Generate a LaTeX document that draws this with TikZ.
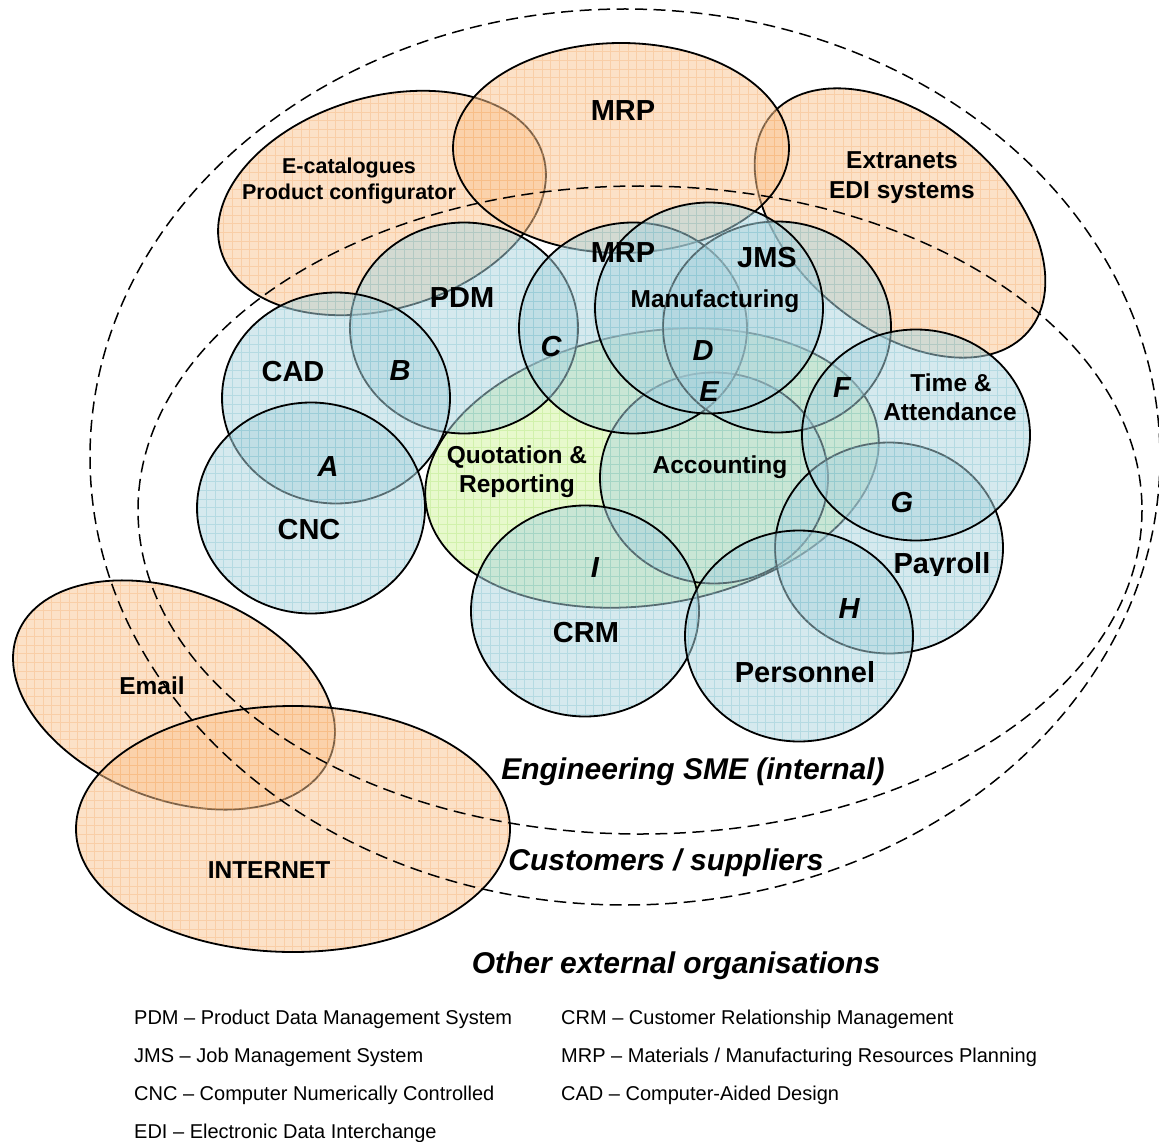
\documentclass[tikz,border=0pt]{standalone}
\usepackage{fontspec}
\setmainfont{Liberation Sans}
\newcommand\myfs[1]{\fontsize{#1}{#1}\selectfont}
\definecolor{orbase}{RGB}{251,197,145}
\definecolor{blbase}{RGB}{172,212,222}
\definecolor{grbase}{RGB}{209,245,155}
\definecolor{orgrid}{RGB}{245,165,95}
\definecolor{blgrid}{RGB}{110,185,200}
\definecolor{grgrid}{RGB}{160,225,100}
\tikzset{
  gridpic/.style={path picture={\draw[reset cm,#1,draw opacity=0.3,line width=0.5pt,step=8.6pt] (0,1142) grid (1159,0);}},
  orsh/.style={fill=orbase, fill opacity=0.5, draw=black, line width=1.8pt, gridpic=orgrid},
  blsh/.style={fill=blbase, fill opacity=0.5, draw=black, line width=1.8pt, gridpic=blgrid},
  grsh/.style={fill=grbase, fill opacity=0.5, draw=black, line width=1.8pt, gridpic=grgrid},
  dsh/.style={draw=black, line width=1.5pt, dash pattern=on 12pt off 6.5pt},
  big/.style={font=\bfseries\myfs{29}, anchor=base, inner sep=0pt},
  mid/.style={font=\bfseries\myfs{24.5}, anchor=base, inner sep=0pt},
  sml/.style={font=\bfseries\myfs{21.5}, anchor=base, inner sep=0pt},
  ital/.style={font=\bfseries\itshape\myfs{29}, anchor=base, inner sep=0pt},
  ttl/.style={font=\bfseries\itshape\myfs{30}, anchor=base, inner sep=0pt},
  leg/.style={font=\myfs{20}, anchor=base west, inner sep=0pt},
}
\begin{document}
\begin{tikzpicture}[x=1pt,y=-1pt]
\fill[white] (0,0) rectangle (1159,1142);
\useasboundingbox (0,0) rectangle (1159,1142);

% orange shapes
\draw[orsh, shift={(382,203)}, rotate=16.4] (0,0) ellipse [x radius=168, y radius=106];
\draw[orsh, shift={(900,223)}, rotate=-40] (0,0) ellipse [x radius=168, y radius=105];
\draw[orsh] (621,148) ellipse [x radius=168, y radius=105];
\draw[orsh, shift={(174,695)}, rotate=-21.4] (0,0) ellipse [x radius=168, y radius=104];
\draw[orsh] (293,829) ellipse [x radius=217, y radius=123];

% dashed boundaries
\draw[dsh] (625,457) ellipse [x radius=535, y radius=448];
\draw[dsh] (640,510) ellipse [x radius=502, y radius=324];

% Quotation & Reporting
\draw[grsh, shift={(652,468)}, rotate=10] (0,0) ellipse [x radius=229, y radius=136];

% blue shapes
\draw[blsh] (464,328) ellipse [x radius=114, y radius=105.5]; % PDM
\draw[blsh] (336,398) ellipse [x radius=114, y radius=105.5]; % CAD
\draw[blsh] (311,508) ellipse [x radius=114, y radius=105.5]; % CNC
\draw[blsh] (714,478) ellipse [x radius=114, y radius=105.5]; % Accounting
\draw[blsh] (633,328) ellipse [x radius=114, y radius=105.5]; % MRP lower
\draw[blsh] (777,327) ellipse [x radius=114, y radius=105.5]; % JMS
\draw[blsh] (709,308) ellipse [x radius=114, y radius=105.5]; % Manufacturing
\draw[blsh] (889,548) ellipse [x radius=114, y radius=105.5]; % Payroll
\draw[blsh] (916,435) ellipse [x radius=114, y radius=105.5]; % Time & Attendance
\draw[blsh] (585,611) ellipse [x radius=114, y radius=105.5]; % CRM
\draw[blsh] (799,636) ellipse [x radius=114, y radius=105.5]; % Personnel

% labels
\node[big] (mrpt) at (623,121) {MRP};
\node[sml] (ecat1) at (349,174) {E-catalogues};
\node[sml] (ecat2) at (349,200) {Product configurator};
\node[mid] (extr1) at (902,169) {Extranets};
\node[mid] (extr2) at (902,199) {EDI systems};
\node[big] (mrpl) at (623,262) {MRP};
\node[big] (jms) at (767,267) {JMS};
\node[mid] (manu) at (715,307) {Manufacturing};
\node[big] (pdm) at (462,307) {PDM};
\node[big] (cad) at (293,381) {CAD};
\node[big] (cnc) at (309,539) {CNC};
\node[mid] (quot1) at (517,463) {Quotation \&};
\node[mid] (quot2) at (517,492) {Reporting};
\node[mid] (acc) at (720,473) {Accounting};
\node[mid] (ta1) at (951,391) {Time \&};
\node[mid] (ta2) at (950,420) {Attendance};
\begin{scope}
\clip (880,540) rectangle (1010,575);
\node[big] (pay) at (942,573) {Payroll};
\end{scope}
\node[big] (pers) at (805,682) {Personnel};
\node[big] (crm) at (586,642) {CRM};
\node[mid] (email) at (152,694) {Email};
\node[mid] (inet) at (269,878) {INTERNET};

\node[ital] (la) at (328,476) {A};
\node[ital] (lb) at (400,380) {B};
\node[ital] (lc) at (551,356) {C};
\node[ital] (ld) at (703,360) {D};
\node[ital] (le) at (709,401) {E};
\node[ital] (lf) at (842,397) {F};
\node[ital] (lg) at (902,512) {G};
\node[ital] (lh) at (849,618) {H};
\node[ital] (li) at (595,577) {I};

\node[ttl] (eng) at (693,779) {Engineering SME (internal)};
\node[ttl] (cust) at (666,870) {Customers / suppliers};
\node[ttl] (oth) at (676,973) {Other external organisations};

% legend
\node[leg] (g1) at (134,1024) {PDM – Product Data Management System};
\node[leg] (g2) at (134,1062) {JMS – Job Management System};
\node[leg] (g3) at (134,1100) {CNC – Computer Numerically Controlled};
\node[leg] (g4) at (134,1138) {EDI – Electronic Data Interchange};
\node[leg] (g5) at (561,1024) {CRM – Customer Relationship Management};
\node[leg] (g6) at (561,1062) {MRP – Materials / Manufacturing Resources Planning};
\node[leg] (g7) at (561,1100) {CAD – Computer-Aided Design};
\end{tikzpicture}
\end{document}
